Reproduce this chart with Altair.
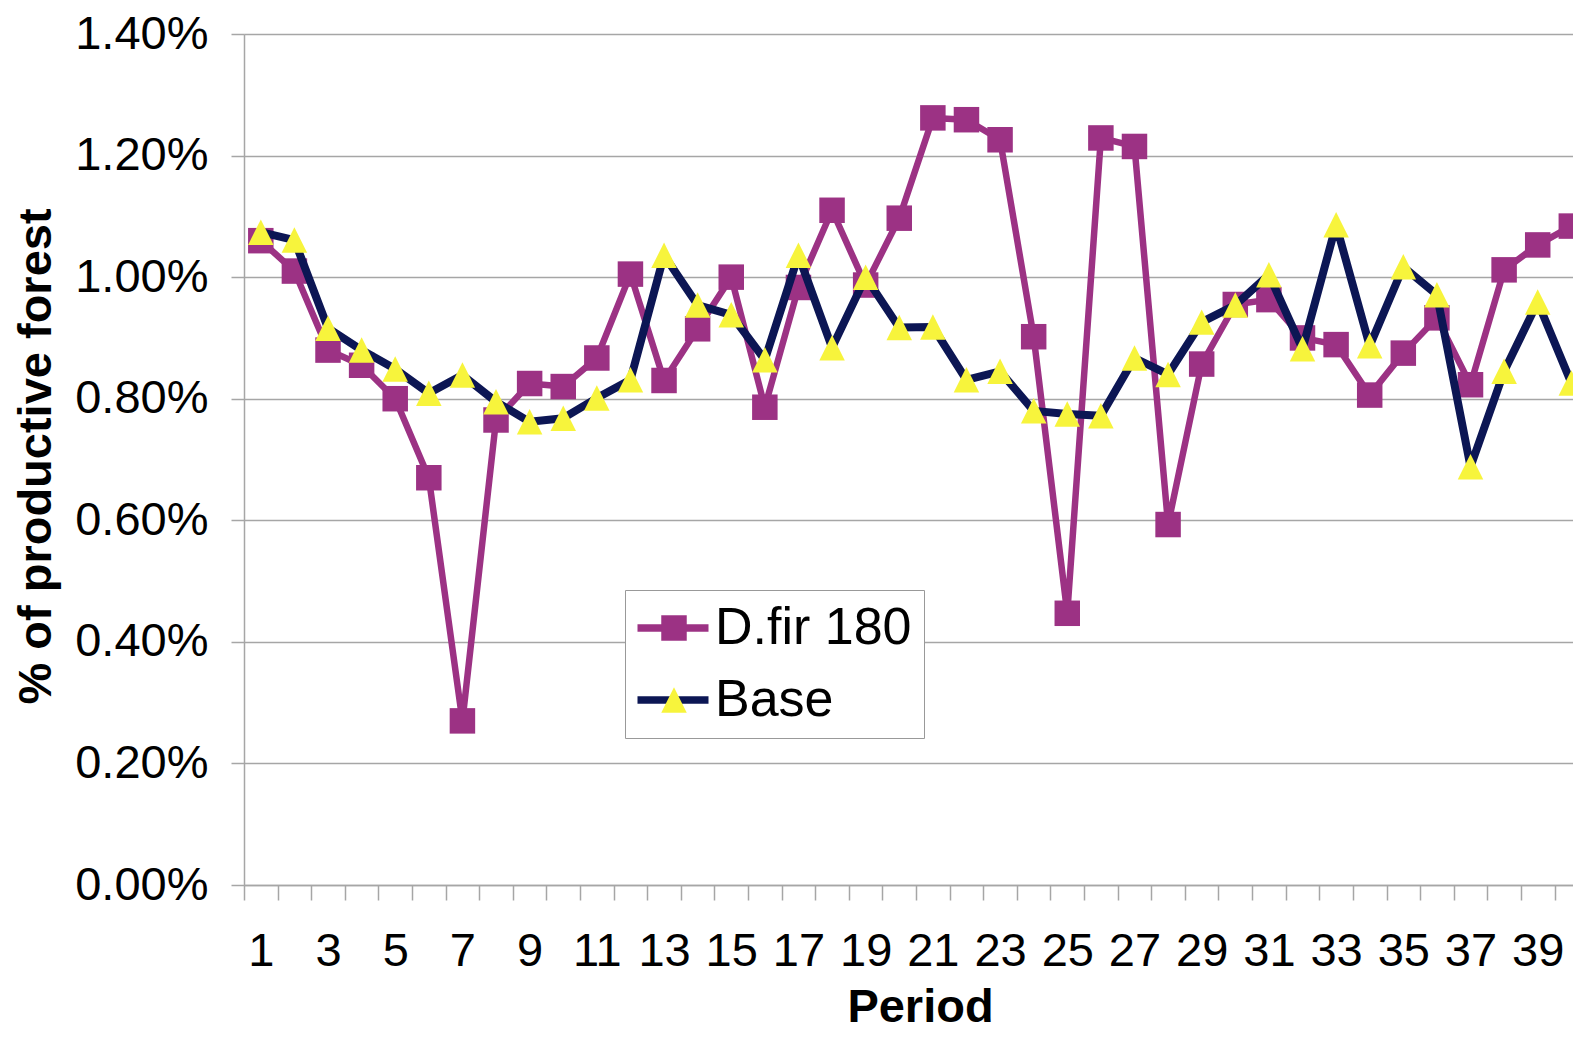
import altair as alt
import pandas as pd

periods = list(range(1, 41))
dfir_180 = [1.06, 1.01, 0.88, 0.855, 0.80, 0.67, 0.27, 0.765, 0.825, 0.82,
            0.867, 1.005, 0.83, 0.915, 1.00, 0.786, 0.983, 1.11, 0.987, 1.097,
            1.262, 1.259, 1.226, 0.902, 0.447, 1.229, 1.215, 0.593, 0.857, 0.955,
            0.963, 0.90, 0.889, 0.806, 0.875, 0.933, 0.823, 1.012, 1.053, 1.084]
base = [1.074, 1.061, 0.916, 0.880, 0.849, 0.809, 0.839, 0.795, 0.762, 0.768,
        0.801, 0.831, 1.036, 0.954, 0.938, 0.864, 1.036, 0.884, 1.00, 0.917,
        0.918, 0.831, 0.845, 0.780, 0.775, 0.772, 0.867, 0.840, 0.926, 0.954,
        1.004, 0.882, 1.086, 0.887, 1.017, 0.971, 0.688, 0.845, 0.959, 0.826]

series_names = ["D.fir 180", "Base"]
series_keys = ["a", "b"]
line_colors = ["#9C3284", "#0C1654"]
marker_colors = ["#9C3284", "#F7F43C"]
TRI = "M0,-1L1,1L-1,1Z"
LEGEND_LINE = "M-2.6,0H2.6"
marker_shapes = ["square", TRI]
y_ticks = [0, 0.002, 0.004, 0.006, 0.008, 0.010, 0.012, 0.014]
x_tick_marks = [i + 0.5 for i in range(0, 40)]
x_label_vals = list(range(1, 40, 2))

rows = []
for name, key, vals in zip(series_names, series_keys, [dfir_180, base]):
    for p, v in zip(periods, vals):
        rows.append({"period": p, "value": v / 100.0, "series": name, "key": key})
df = pd.DataFrame(rows)

FONT = "Liberation Sans"
GRID = "#A6A6A6"

x_enc = alt.X(
    "period:Q",
    scale=alt.Scale(domain=[0.5, 40.05], nice=False, zero=False),
    axis=alt.Axis(
        values=x_tick_marks + x_label_vals,
        labelExpr="datum.value % 2 == 1 ? format(datum.value, 'd') : ''",
        tickOpacity={"condition": {"test": "datum.value % 1 != 0", "value": 1}, "value": 0},
        tickSize=15, tickColor=GRID, tickWidth=1.5,
        domainColor=GRID, domainWidth=1.5,
        grid=False,
        labelFont=FONT, labelFontSize=47, labelColor="black",
        labelPadding=28, labelOverlap=False, labelBound=False, labelFlush=False,
        title="Period", titleFont=FONT, titleFontSize=47, titleFontWeight="bold",
        titleColor="black", titleX=676, titleY=136, titleBaseline="alphabetic",
        titleAlign="center",
    ),
)
y_enc = alt.Y(
    "value:Q",
    scale=alt.Scale(domain=[0, 0.014], nice=False),
    axis=alt.Axis(
        values=y_ticks, format=".2%",
        grid=True, gridColor=GRID, gridWidth=1.5,
        tickSize=13, tickColor=GRID, tickWidth=1.5,
        domainColor=GRID, domainWidth=1.5,
        labelFont=FONT, labelFontSize=47, labelColor="black", labelPadding=23,
        labelOverlap=False,
        title="% of productive forest", titleFont=FONT, titleFontSize=47,
        titleFontWeight="bold", titleColor="black", titleAngle=270,
        titleX=-194, titleY=422, titleBaseline="alphabetic", titleAlign="center",
    ),
)

stroke_enc = alt.Stroke(
    "series:N",
    scale=alt.Scale(domain=series_names, range=line_colors),
    legend=alt.Legend(
        title=None, orient="none", legendX=381, legendY=556,
        symbolType=LEGEND_LINE, symbolSize=746, symbolStrokeWidth=7.5,
        symbolOffset=10,
        labelFont=FONT, labelFontSize=52, labelColor="black", labelOffset=16,
        labelLimit=0, rowPadding=20, padding=12,
        strokeColor="#999999", fillColor="white", zindex=1,
    ),
)
legend_pts = alt.Legend(
    title=None, orient="none", legendX=381, legendY=556,
    symbolSize=650, symbolStrokeWidth=0, symbolOpacity=1, symbolOffset=11,
    labelFont=FONT, labelFontSize=52, labelOpacity=0, labelOffset=12,
    labelExpr="''",
    labelLimit=0, rowPadding=20, padding=12, zindex=2,
)
fill_enc = alt.Fill("key:N", scale=alt.Scale(domain=series_keys, range=marker_colors), legend=legend_pts)
shape_enc = alt.Shape("key:N", scale=alt.Scale(domain=series_keys, range=marker_shapes), legend=legend_pts)

base_chart = alt.Chart(df)

def line_layer(name, width):
    return base_chart.transform_filter(alt.datum.series == name).mark_line(
        strokeWidth=width, strokeJoin="round"
    ).encode(x=x_enc, y=y_enc, stroke=stroke_enc, order="period:Q")

def point_layer(name):
    return base_chart.transform_filter(alt.datum.series == name).mark_point(
        filled=True, size=650, opacity=1, strokeWidth=0
    ).encode(x=x_enc, y=y_enc, fill=fill_enc, shape=shape_enc)

chart = alt.layer(
    line_layer("D.fir 180", 6.5),
    point_layer("D.fir 180"),
    line_layer("Base", 8),
    point_layer("Base"),
).properties(
    width=1329, height=851,
    autosize=alt.AutoSizeParams(type="none"),
    padding={"left": 236, "top": 26, "right": 0, "bottom": 138},
).configure_view(stroke=None).configure(background="white")

chart.save("out.html", embed_options={"renderer": "svg", "actions": False})
